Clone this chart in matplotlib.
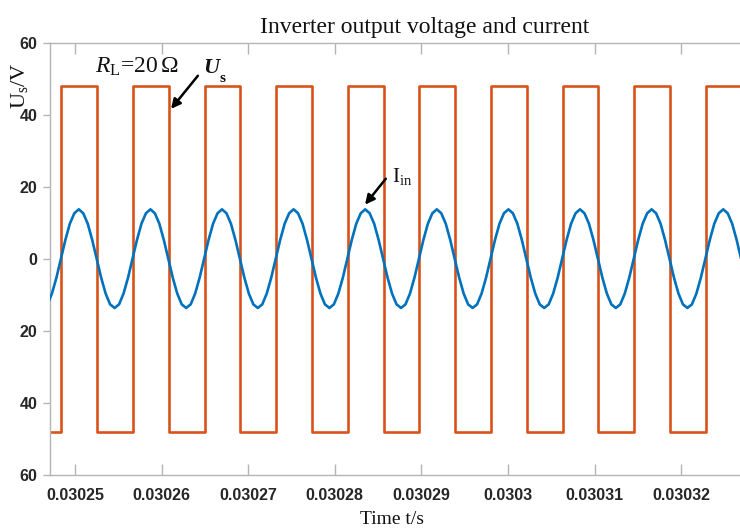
import numpy as np
import matplotlib
matplotlib.use("Agg")
import matplotlib.pyplot as plt
from matplotlib.ticker import FixedLocator, FixedFormatter

# ---------------- data ----------------
# switching instants of the inverter output voltage (s)
us_edges = [0.03024844, 0.03025258, 0.03025671, 0.03026084, 0.03026498,
            0.03026911, 0.03027325, 0.03027738, 0.03028151, 0.03028565,
            0.03028978, 0.03029392, 0.03029805, 0.03030218, 0.03030632,
            0.03031045, 0.03031458, 0.03031872, 0.03032285]
# voltage level before the first edge and after each edge (V)
us_levels = [-48, 48, -48, 48, -48, 48, -48, 48, -48, 48,
             -48, 48, -48, 48, -48, 48, -48, 48, -48, 48]
us_t_start = 0.03024000
us_t_end = 0.03033000

# inverter current samples (A)
iin_t_start = 0.03024683
iin_t_end = 0.03032693
iin_values = [
    -12.6, -9.6, -5.2,
    0.0, 5.3, 9.8, 12.7, 13.8, 12.7, 9.8, 5.3, 0.0, -5.2, -9.6, -12.6, -13.6, -12.6, -9.6, -5.2,
    0.0, 5.3, 9.8, 12.7, 13.8, 12.7, 9.8, 5.3, 0.0, -5.2, -9.6, -12.6, -13.6, -12.6, -9.6, -5.2,
    0.0, 5.3, 9.8, 12.7, 13.8, 12.7, 9.8, 5.3, 0.0, -5.2, -9.6, -12.6, -13.6, -12.6, -9.6, -5.2,
    0.0, 5.3, 9.8, 12.7, 13.8, 12.7, 9.8, 5.3, 0.0, -5.2, -9.6, -12.6, -13.6, -12.6, -9.6, -5.2,
    0.0, 5.3, 9.8, 12.7, 13.8, 12.7, 9.8, 5.3, 0.0, -5.2, -9.6, -12.6, -13.6, -12.6, -9.6, -5.2,
    0.0, 5.3, 9.8, 12.7, 13.8, 12.7, 9.8, 5.3, 0.0, -5.2, -9.6, -12.6, -13.6, -12.6, -9.6, -5.2,
    0.0, 5.3, 9.8, 12.7, 13.8, 12.7, 9.8, 5.3, 0.0, -5.2, -9.6, -12.6, -13.6, -12.6, -9.6, -5.2,
    0.0, 5.3, 9.8, 12.7, 13.8, 12.7, 9.8, 5.3, 0.0, -5.2, -9.6, -12.6, -13.6, -12.6, -9.6, -5.2,
    0.0, 5.3, 9.8, 12.7, 13.8, 12.7, 9.8, 5.3, 0.0, -5.2, -9.6, -12.6, -13.6, -12.6, -9.6, -5.2,
    0.0, 5.3, 9.8, 12.7, 13.8, 12.7, 9.8, 5.3, 0.0,
]

x_ticks = [0.03025, 0.03026, 0.03027, 0.03028, 0.03029, 0.0303, 0.03031, 0.03032]
x_tick_labels = ["0.03025", "0.03026", "0.03027", "0.03028", "0.03029",
                 "0.0303", "0.03031", "0.03032"]
y_ticks = [-60, -40, -20, 0, 20, 40, 60]
y_tick_labels = ["60", "40", "20", "0", "20", "40", "60"]

x_lim = (0.0302471, 0.0303268)
y_lim = (-60, 60)

title_text = "Inverter output voltage and current"
xlabel_text = "Time t/s"

# ---------------- styling ----------------
orange = "#D95319"
blue = "#0072BD"
tick_font = ["Liberation Sans Narrow", "Liberation Sans", "DejaVu Sans"]
serif = ["Liberation Serif", "DejaVu Serif"]
plt.rcParams["mathtext.fontset"] = "custom"
plt.rcParams["mathtext.rm"] = "Liberation Serif"
plt.rcParams["mathtext.it"] = "Liberation Serif:italic"
plt.rcParams["mathtext.bf"] = "Liberation Serif:bold"

fig = plt.figure(figsize=(7.40, 5.32), dpi=100)
ax = fig.add_axes([0.0673, 0.1071, 0.9327, 0.8121])

# square-wave voltage
t_step = [us_t_start] + us_edges + [us_t_end]
v_step = us_levels + [us_levels[-1]]
ax.step(t_step, v_step, where="post", color=orange, lw=1.9,
        solid_joinstyle="round", zorder=2)

# current
t_i = np.linspace(iin_t_start, iin_t_end, len(iin_values))
ax.plot(t_i, iin_values, color=blue, lw=1.9, solid_joinstyle="round",
        solid_capstyle="round", zorder=3)

ax.set_xlim(*x_lim)
ax.set_ylim(*y_lim)

ax.xaxis.set_major_locator(FixedLocator(x_ticks))
ax.xaxis.set_major_formatter(FixedFormatter(x_tick_labels))
ax.yaxis.set_major_locator(FixedLocator(y_ticks))
ax.yaxis.set_major_formatter(FixedFormatter(y_tick_labels))

spine_c = "#b4b4b4"
for s in ["left", "bottom", "top"]:
    ax.spines[s].set_color(spine_c)
    ax.spines[s].set_linewidth(1.0)
ax.spines["right"].set_visible(False)

ax.tick_params(axis="x", direction="in", length=8, width=1.0, color=spine_c,
               top=True, bottom=True, pad=9)
ax.tick_params(axis="y", direction="out", length=5, width=1.0, color=spine_c,
               left=True, right=False, pad=4)
for lab in ax.get_xticklabels() + ax.get_yticklabels():
    lab.set_fontfamily(tick_font)
    lab.set_fontweight("bold")
    lab.set_fontsize(11.5)
    lab.set_color("#262626")

# title and axis labels
fig.text(425 / 740, 1 - 28 / 532, title_text, family=serif, fontsize=17,
         ha="center", va="center", color="#111111")
fig.text(392 / 740, 1 - 520 / 532, xlabel_text, family=serif, fontsize=14,
         ha="center", va="center", color="#111111")
fig.text(20 / 740, 1 - 86 / 532, r"U$_\mathrm{s}$/V", family=serif,
         fontsize=16, rotation=90, ha="center", va="center", color="#111111")

# annotations
ax.text(0.0302523, 53.4, r"$R_\mathrm{L}$=20$\,\Omega$", family=serif,
        fontsize=17, ha="left", va="center", color="#111111")
ax.text(0.0302648, 53.0, "U", family=serif, fontstyle="italic",
        fontweight="bold", fontsize=16, ha="left", va="center", color="#111111")
ax.text(0.03026668, 50.2, "s", family=serif, fontweight="bold",
        fontsize=11, ha="left", va="center", color="#111111")
ax.annotate("", xy=(0.0302611, 41.7), xytext=(0.0302642, 50.9),
            arrowprops=dict(arrowstyle="-|>", color="black", lw=1.8,
                            mutation_scale=14, shrinkA=0, shrinkB=0))

ax.text(0.0302866, 22.9, r"I$_\mathrm{in}$", family=serif, fontsize=15,
        ha="left", va="center", color="#111111")
ax.annotate("", xy=(0.0302835, 15.1), xytext=(0.0302859, 22.3),
            arrowprops=dict(arrowstyle="-|>", color="black", lw=1.8,
                            mutation_scale=14, shrinkA=0, shrinkB=0))

fig.savefig("out.png", dpi=100)
